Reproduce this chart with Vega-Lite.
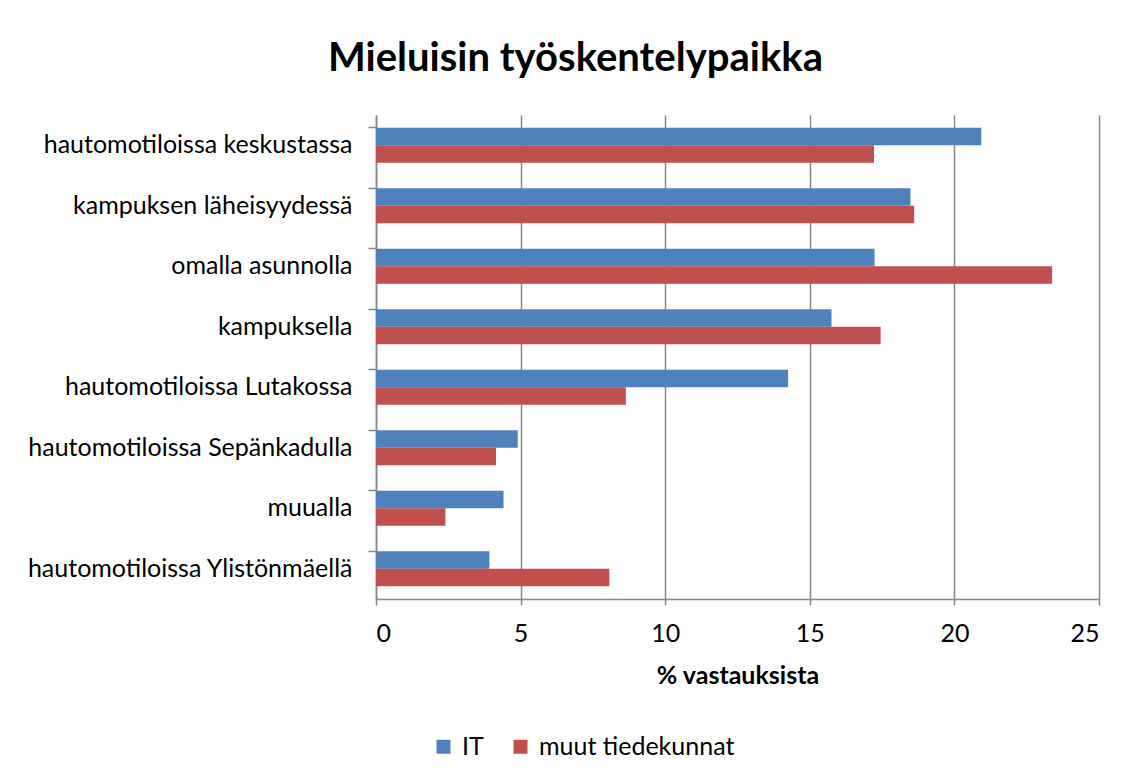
{
  "$schema": "https://vega.github.io/schema/vega-lite/v6.json",
  "width": 723,
  "height": 484,
  "autosize": {"type": "none"},
  "padding": {"left": 376, "top": 115, "right": 32, "bottom": 179},
  "background": "white",
  "title": {
    "text": "Mieluisin työskentelypaikka",
    "font": "Lato",
    "fontSize": 40,
    "fontWeight": "bold",
    "color": "#000000",
    "anchor": "middle",
    "dx": -162,
    "offset": 36
  },
  "data": {
    "values": [
      {"paikka": "hautomotiloissa keskustassa", "ryhma": "IT", "arvo": 20.93},
      {"paikka": "hautomotiloissa keskustassa", "ryhma": "muut tiedekunnat", "arvo": 17.22},
      {"paikka": "kampuksen läheisyydessä", "ryhma": "IT", "arvo": 18.48},
      {"paikka": "kampuksen läheisyydessä", "ryhma": "muut tiedekunnat", "arvo": 18.61},
      {"paikka": "omalla asunnolla", "ryhma": "IT", "arvo": 17.24},
      {"paikka": "omalla asunnolla", "ryhma": "muut tiedekunnat", "arvo": 23.38},
      {"paikka": "kampuksella", "ryhma": "IT", "arvo": 15.75},
      {"paikka": "kampuksella", "ryhma": "muut tiedekunnat", "arvo": 17.45},
      {"paikka": "hautomotiloissa Lutakossa", "ryhma": "IT", "arvo": 14.25},
      {"paikka": "hautomotiloissa Lutakossa", "ryhma": "muut tiedekunnat", "arvo": 8.64},
      {"paikka": "hautomotiloissa Sepänkadulla", "ryhma": "IT", "arvo": 4.9},
      {"paikka": "hautomotiloissa Sepänkadulla", "ryhma": "muut tiedekunnat", "arvo": 4.15},
      {"paikka": "muualla", "ryhma": "IT", "arvo": 4.41},
      {"paikka": "muualla", "ryhma": "muut tiedekunnat", "arvo": 2.4},
      {"paikka": "hautomotiloissa Ylistönmäellä", "ryhma": "IT", "arvo": 3.92},
      {"paikka": "hautomotiloissa Ylistönmäellä", "ryhma": "muut tiedekunnat", "arvo": 8.07}
    ]
  },
  "mark": {"type": "bar", "orient": "horizontal"},
  "encoding": {
    "y": {
      "field": "paikka",
      "type": "nominal",
      "sort": null,
      "scale": {"paddingInner": 0.42, "paddingOuter": 0.21},
      "axis": {
        "title": null,
        "bandPosition": 0,
        "labelFont": "Lato",
        "labelFontSize": 25,
        "labelLimit": 0,
        "labelColor": "#000000",
        "labelPadding": 16,
        "tickSize": 8,
        "tickColor": "#868686",
        "tickWidth": 1.5,
        "domainColor": "#868686",
        "domainWidth": 1.5,
        "grid": false
      }
    },
    "yOffset": {"field": "ryhma", "type": "nominal", "sort": ["IT", "muut tiedekunnat"]},
    "x": {
      "field": "arvo",
      "type": "quantitative",
      "scale": {"domain": [0, 25], "nice": false},
      "axis": {
        "title": "% vastauksista",
        "titleFont": "Lato",
        "titleFontSize": 25,
        "titleFontWeight": "bold",
        "titleColor": "#000000",
        "titlePadding": 17,
        "values": [0, 5, 10, 15, 20, 25],
        "labelFont": "Lato",
        "labelFontSize": 25,
        "labelColor": "#000000",
        "labelPadding": 16,
        "tickSize": 6,
        "tickColor": "#868686",
        "tickWidth": 1.5,
        "domainColor": "#868686",
        "domainWidth": 1.5,
        "grid": true,
        "gridColor": "#868686",
        "gridWidth": 1.5
      }
    },
    "color": {
      "field": "ryhma",
      "type": "nominal",
      "scale": {"domain": ["IT", "muut tiedekunnat"], "range": ["#4F81BD", "#C0504D"]},
      "legend": {
        "title": null,
        "orient": "none",
        "direction": "horizontal",
        "legendX": 55,
        "legendY": 619,
        "symbolType": "square",
        "symbolSize": 196,
        "symbolStrokeWidth": 0,
        "labelFont": "Lato",
        "labelFontSize": 25,
        "labelLimit": 0,
        "labelColor": "#000000",
        "columnPadding": 24,
        "labelOffset": 6
      }
    }
  },
  "config": {"view": {"stroke": null}}
}
